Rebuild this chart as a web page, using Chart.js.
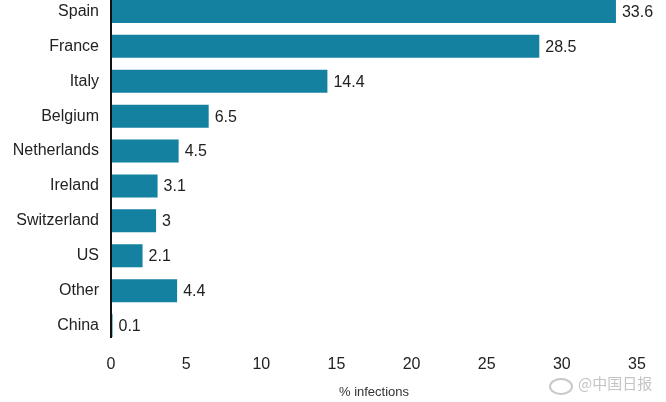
<!DOCTYPE html>
<html>
<head>
<meta charset="utf-8">
<script src="https://cdn.jsdelivr.net/npm/chart.js@4/dist/chart.umd.min.js"></script>
<style>
  html, body { margin:0; padding:0; background:#fff; overflow:hidden; }
  body { width:666px; height:402px; position:relative; }
  #wrap { position:absolute; left:0; top:-6px; width:666px; height:408px; }
  #wm { position:absolute; left:578px; top:374px; font-family:"Noto Sans CJK SC", sans-serif; font-size:15px; line-height:18px; color:#c4c4c4; white-space:nowrap; }
  #logo { position:absolute; left:549px; top:378px; width:20px; height:13px; border:2px solid #c8c8c8; border-radius:50%; }
</style>
</head>
<body>
<div id="wrap"><canvas id="c" width="666" height="408"></canvas></div>
<div id="logo"></div>
<div id="wm">@中国日报</div>
<script>
const categories = ["Spain","France","Italy","Belgium","Netherlands","Ireland","Switzerland","US","Other","China"];
const values = [33.6, 28.5, 14.4, 6.5, 4.5, 3.1, 3, 2.1, 4.4, 0.1];
const xTicks = [0,5,10,15,20,25,30,35];

const FONT = "Arial, 'Liberation Sans', sans-serif";

const valueLabels = {
  id: 'valueLabels',
  afterDatasetsDraw(chart) {
    const ctx = chart.ctx;
    const meta = chart.getDatasetMeta(0);
    ctx.save();
    ctx.font = "16px " + FONT;
    ctx.fillStyle = "#222";
    ctx.textAlign = "left";
    ctx.textBaseline = "middle";
    meta.data.forEach((bar, i) => {
      ctx.fillText(String(values[i]), bar.x + 6, bar.y + 1);
    });
    ctx.restore();
  }
};

const axisLine = {
  id: 'axisLine',
  afterDatasetsDraw(chart) {
    const ctx = chart.ctx;
    const x = chart.scales.x.getPixelForValue(0);
    ctx.save();
    ctx.strokeStyle = "#111";
    ctx.lineWidth = 2;
    ctx.beginPath();
    ctx.moveTo(x, 0);
    ctx.lineTo(x, chart.chartArea.bottom - 5);
    ctx.stroke();
    ctx.restore();
  }
};

new Chart(document.getElementById('c'), {
  type: 'bar',
  data: {
    labels: categories,
    datasets: [{
      data: values,
      backgroundColor: '#1581a1',
      barPercentage: 0.66,
      categoryPercentage: 1.0
    }]
  },
  options: {
    indexAxis: 'y',
    responsive: false,
    animation: false,
    devicePixelRatio: 1,
    layout: { padding: { left: 0, right: 29, top: 0, bottom: 0 } },
    plugins: { legend: { display: false }, tooltip: { enabled: false } },
    scales: {
      x: {
        min: 0, max: 35,
        afterBuildTicks(scale) { scale.ticks = xTicks.map(v => ({ value: v })); },
        afterFit(scale) { scale.height = 59; },
        grid: { display: false, drawTicks: false },
        border: { display: false },
        ticks: { font: { size: 16, family: FONT }, color: '#222', padding: 12, maxRotation: 0 },
        title: { display: true, text: '% infections', font: { size: 13, family: FONT }, color: '#333', padding: { top: 0, bottom: 2 } }
      },
      y: {
        afterFit(scale) { scale.width = 111; scale.paddingTop = 0; scale.paddingBottom = 0; },
        grid: { display: false, drawTicks: false },
        border: { display: false },
        ticks: { font: { size: 16, family: FONT }, color: '#222', padding: 12 }
      }
    }
  },
  plugins: [valueLabels, axisLine]
});
</script>
</body>
</html>
